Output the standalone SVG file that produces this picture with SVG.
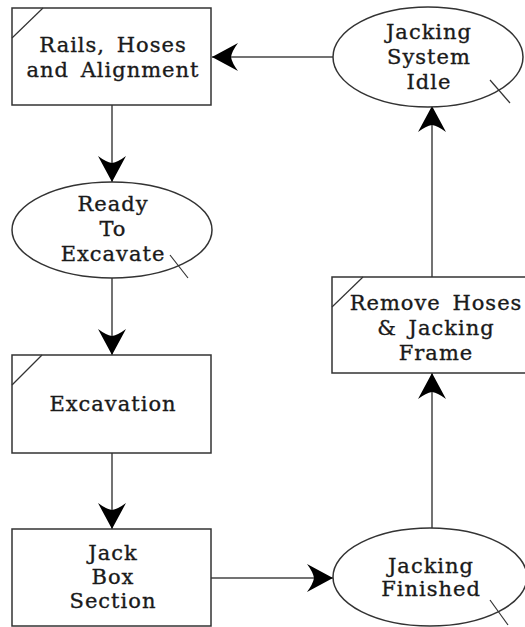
<svg xmlns="http://www.w3.org/2000/svg" width="525" height="627" viewBox="0 0 525 627">
<style>
.n{fill:#fff;stroke:#333;stroke-width:1.5}
.d{stroke:#333;stroke-width:1.2;fill:none}
.t{font-family:"DejaVu Serif","Liberation Serif",serif;font-size:21px;letter-spacing:1px;word-spacing:4px;fill:#1a1a1a;stroke:#1a1a1a;stroke-width:0.35;text-anchor:middle}
.c{stroke:#444;stroke-width:1.5;fill:none}
</style>
<defs>
<marker id="a" markerUnits="userSpaceOnUse" markerWidth="30" markerHeight="32" viewBox="-27 -16 30 32" refX="0" refY="0" orient="auto">
<path d="M0,0 L-26,-14 Q-20,-6 -19,0 Q-20,6 -26,14 Z" fill="#000"/>
</marker>
</defs>
<g id="connectors">
<line class="c" x1="333" y1="57" x2="212" y2="57" marker-end="url(#a)"/>
<line class="c" x1="112" y1="105" x2="112" y2="182" marker-end="url(#a)"/>
<line class="c" x1="112" y1="278" x2="112" y2="355" marker-end="url(#a)"/>
<line class="c" x1="112" y1="453" x2="112" y2="529" marker-end="url(#a)"/>
<line class="c" x1="211" y1="578" x2="333" y2="578" marker-end="url(#a)"/>
<line class="c" x1="432" y1="528" x2="432" y2="373" marker-end="url(#a)"/>
<line class="c" x1="432" y1="277" x2="432" y2="106" marker-end="url(#a)"/>
</g>
<g id="rails">
<rect class="n" x="12" y="8" width="199" height="97"/>
<line class="d" x1="12" y1="38" x2="43" y2="8"/>
<text class="t" x="113" y="52">Rails, Hoses</text>
<text class="t" x="113" y="77">and Alignment</text>
</g>
<g id="idle">
<ellipse class="n" cx="428" cy="57" rx="95" ry="50"/>
<line class="d" x1="490" y1="80" x2="510" y2="103"/>
<text class="t" x="429" y="39">Jacking</text>
<text class="t" x="429" y="64">System</text>
<text class="t" x="429" y="89">Idle</text>
</g>
<g id="ready">
<ellipse class="n" cx="112" cy="230" rx="100" ry="48"/>
<line class="d" x1="170" y1="255" x2="188" y2="278"/>
<text class="t" x="113" y="211">Ready</text>
<text class="t" x="113" y="236">To</text>
<text class="t" x="113" y="261">Excavate</text>
</g>
<g id="excavation">
<rect class="n" x="12" y="355" width="199" height="98"/>
<line class="d" x1="12" y1="385" x2="42" y2="355"/>
<text class="t" x="113" y="411">Excavation</text>
</g>
<g id="jackbox">
<rect class="n" x="12" y="529" width="199" height="97"/>
<text class="t" x="113" y="560">Jack</text>
<text class="t" x="113" y="584">Box</text>
<text class="t" x="113" y="608">Section</text>
</g>
<g id="finished">
<ellipse class="n" cx="430" cy="577" rx="97" ry="49"/>
<line class="d" x1="490" y1="600" x2="508" y2="625"/>
<text class="t" x="431" y="573">Jacking</text>
<text class="t" x="431" y="596">Finished</text>
</g>
<g id="remove">
<rect class="n" x="332" y="277" width="199" height="96"/>
<line class="d" x1="332" y1="307" x2="363" y2="277"/>
<text class="t" x="436" y="310">Remove Hoses</text>
<text class="t" x="436" y="335">&amp; Jacking</text>
<text class="t" x="436" y="360">Frame</text>
</g>
</svg>
